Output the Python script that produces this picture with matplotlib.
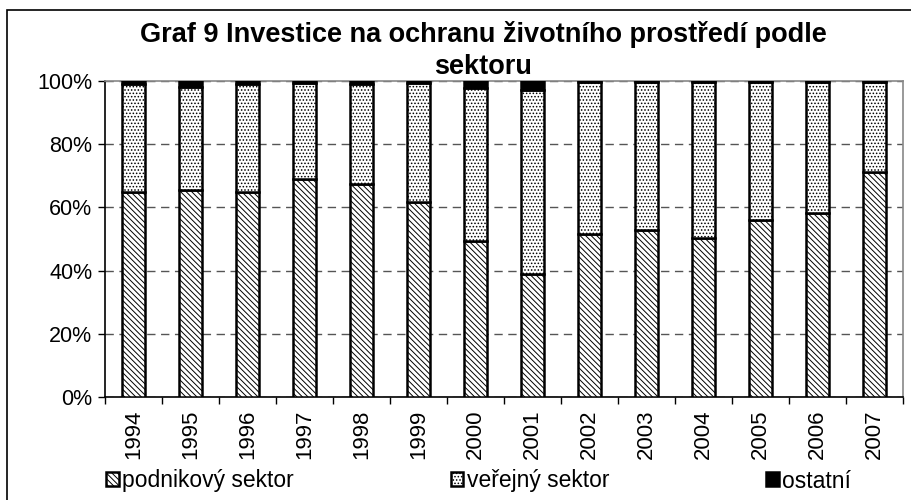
import numpy as np
import matplotlib
matplotlib.use("Agg")
import matplotlib.pyplot as plt
from matplotlib.patches import Rectangle, Patch

plt.rcParams['font.family'] = ['Liberation Sans', 'DejaVu Sans']
plt.rcParams['hatch.linewidth'] = 0.7

# ------------------------------------------------------------
# data (podíly v %)
# ------------------------------------------------------------
years = ["1994", "1995", "1996", "1997", "1998", "1999", "2000",
         "2001", "2002", "2003", "2004", "2005", "2006", "2007"]

podnikovy = [65.0, 65.4, 65.0, 69.0, 67.3, 61.6, 49.5,
             39.0, 51.5, 52.9, 50.3, 56.1, 58.3, 71.2]
ostatni = [1.0, 1.8, 1.0, 0.7, 1.0, 0.7, 2.3,
           2.7, 0.3, 0.3, 0.3, 0.3, 0.3, 0.3]
verejny = [100.0 - p - o for p, o in zip(podnikovy, ostatni)]

labels = ["podnikový sektor", "veřejný sektor", "ostatní"]

HATCH_P = "\\" * 6
HATCH_V = "....."

# ------------------------------------------------------------
W, H = 911, 500
fig = plt.figure(figsize=(W / 100, H / 100), dpi=100)
ax = fig.add_axes([105 / W, 1 - 397 / H, (903 - 105) / W, (397 - 81) / H])

x = np.arange(len(years))
bw = 0.40
ax.bar(x, podnikovy, bw, color="white", edgecolor="black",
       linewidth=1.8, hatch=HATCH_P, zorder=3)
ax.bar(x, verejny, bw, bottom=podnikovy, color="white", edgecolor="black",
       linewidth=1.8, hatch=HATCH_V, zorder=3)
bott = [p + v for p, v in zip(podnikovy, verejny)]
ax.bar(x, ostatni, bw, bottom=bott, color="black", edgecolor="black",
       linewidth=1.8, zorder=3)

ax.set_xlim(-0.5, len(years) - 0.5)
ax.set_ylim(0, 100)
ax.set_yticks(np.arange(0, 101, 20))
ax.set_yticklabels([f"{v}%" for v in range(0, 101, 20)], fontsize=15.5)
ax.set_xticks(x)
ax.set_xticklabels(years, rotation=90, fontsize=16)
ax.set_xticks(np.arange(-0.5, len(years), 1), minor=True)
ax.tick_params(axis="x", which="major", length=0, pad=9)
ax.tick_params(axis="x", which="minor", length=5, width=1, color="black",
               direction="out")
ax.tick_params(axis="y", length=5, width=1, color="black", direction="out",
               pad=4)

ax.yaxis.grid(True, color="#555555", linestyle=(0, (6, 4)), linewidth=1,
              zorder=0)
ax.set_axisbelow(True)

ax.spines["left"].set_color("black")
ax.spines["bottom"].set_color("black")
ax.spines["top"].set_color("#888888")
ax.spines["right"].set_color("#888888")
for s in ax.spines.values():
    s.set_linewidth(1.2)

fig.text(483 / W, 1 - 51 / H,
         "Graf 9 Investice na ochranu životního prostředí podle\nsektoru",
         ha="center", va="center", fontsize=19.5, fontweight="bold",
         linespacing=1.3)

handles = [
    Patch(facecolor="white", edgecolor="black", hatch=HATCH_P, linewidth=1.8),
    Patch(facecolor="white", edgecolor="black", hatch=HATCH_V, linewidth=1.8),
    Patch(facecolor="black", edgecolor="black", linewidth=1.8),
]
fig.legend(handles, labels, ncol=3, loc="center left",
           bbox_to_anchor=(106 / W, 1 - 481 / H), frameon=False,
           fontsize=16.5, handlelength=0.55, handleheight=0.55,
           handletextpad=0.15, columnspacing=6.85, borderaxespad=0,
           borderpad=0)

# rámeček grafu
fig.patches.append(Rectangle((7 / W, -0.05), 1.2, 1 - 10 / H + 0.05,
                             transform=fig.transFigure, fill=False,
                             edgecolor="black", linewidth=1.2))

fig.savefig("out.png", dpi=100)
